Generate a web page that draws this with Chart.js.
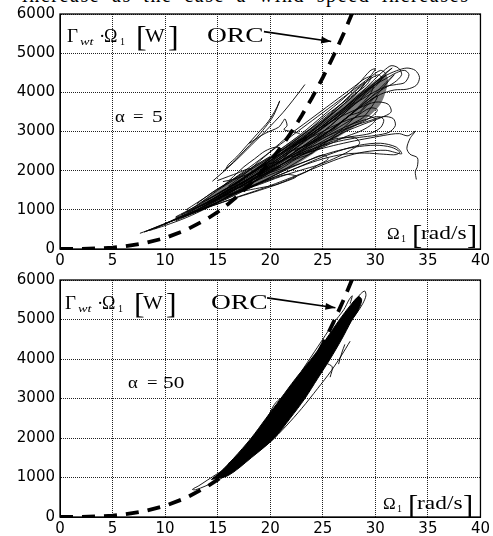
<!DOCTYPE html>
<html><head><meta charset="utf-8">
<script src="https://cdn.jsdelivr.net/npm/chart.js@4.4.0/dist/chart.umd.min.js"></script>
<style>
html,body{margin:0;padding:0;background:#fff;}
#wrap{position:relative;width:493px;height:536px;overflow:hidden;background:#fff;}
canvas{position:absolute;left:0;}
#cut{position:absolute;left:22px;top:-16px;font:20px "Liberation Serif";letter-spacing:1.6px;word-spacing:5px;white-space:nowrap;color:#000;}
</style></head><body>
<div id="wrap">
<div id="cut">increase as the case a wind speed increases</div>
<canvas id="c1" width="493" height="268" style="top:0"></canvas>
<canvas id="c2" width="493" height="270" style="top:266px"></canvas>
</div>
<script>
// ---------- data ----------
const xTicks = [0,5,10,15,20,25,30,35,40];
const yTicks = [0,1000,2000,3000,4000,5000,6000];
const orcOmega = [0,2,4,5,6,8,10,12,14,15,16,17,18,19,20,21,22,23,24,25,26,27,28];
const orcPower = [0,5,20,35,60,145,280,485,770,945,1150,1375,1630,1920,2240,2590,2980,3410,3870,4375,4920,5510,6150];

// alpha = 5 : dense core outline and trajectories [omega, power]
const a5_core = [[12,920],[14,1320],[16,1700],[18,2050],[20,2380],[22,2750],[24,3120],[26,3500],[28,3900],[30,4300],[31,4450],[31.2,4250],[30.5,3700],[29,3300],[27,2950],[25,2600],[23,2250],[21,1950],[19,1680],[17,1420],[15,1170],[13,950],[12,920]];
const a5_loop1 = [[7.6,400],[9,540],[10.5,700],[12,880],[13.5,1060],[15,1280],[16.5,1500],[18,1730],[19.5,1960],[21,2200],[22.5,2450],[24,2720],[25.5,3000],[27,3300],[28.5,3620],[30,3980],[31,4250],[31.8,4450],[31.3,4300],[30.2,3950],[28.8,3550],[27.2,3150],[25.6,2780],[24,2470],[22.3,2180],[20.5,1900],[18.7,1640],[17,1420],[15.2,1200],[13.4,1000],[11.5,800],[9.5,600],[8,430]];
const a5_loop2 = [[9,520],[11,760],[13,1000],[15,1300],[17,1620],[19,1950],[21,2300],[23,2680],[25,3080],[27,3500],[28.5,3880],[30,4250],[31,4500],[31.6,4620],[31,4480],[29.8,4150],[28.3,3780],[26.6,3350],[24.8,2950],[23,2600],[21,2250],[19,1900],[17,1570],[15,1250],[13,960],[11,720]];
const a5_loop3 = [[11,800],[13,1050],[15,1330],[17,1650],[19,1980],[21,2350],[23,2750],[25,3150],[26.8,3550],[28.5,3950],[29.8,4300],[30.8,4550],[31.5,4680],[32.2,4620],[32.5,4450],[31.8,4250],[30.5,4050],[29,3750],[27.3,3350],[25.5,2980],[23.5,2600],[21.5,2230],[19.5,1880],[17.5,1550],[15.5,1260],[13.5,1000],[11.5,790]];
const a5_loop4 = [[22,2600],[24,2950],[26,3350],[28,3800],[29.5,4150],[30.8,4400],[32,4550],[33,4620],[33.8,4560],[34.2,4380],[33.9,4180],[33,4080],[31.8,4060],[30.5,3950],[29,3700],[27.5,3400],[25.8,3050],[24,2750],[22.3,2500]];
const a5_loop5 = [[12,850],[14,1080],[16,1330],[18,1580],[20,1830],[22,2080],[24,2300],[26,2480],[28,2600],[30,2650],[31.5,2600],[32.3,2480],[32,2410],[30.8,2420],[29,2450],[27,2420],[25,2300],[23,2120],[21,1900],[19,1680],[17,1450],[15,1200],[13,960]];
const a5_loop6 = [[13,1000],[15,1280],[17,1560],[19,1850],[21,2150],[23,2480],[25,2820],[27,3100],[29,3300],[30.3,3380],[30.8,3300],[30.5,3100],[29.5,2950],[28,2880],[26,2800],[24,2620],[22,2380],[20,2100],[18,1800],[16,1500],[14,1200]];
const a5_loop7 = [[14,1150],[16,1450],[18,1780],[20,2120],[22,2500],[24,2900],[26,3300],[27.5,3650],[29,3980],[29.8,4150],[29.5,3950],[28.3,3600],[26.8,3250],[25,2900],[23,2580],[21,2250],[19,1950],[17,1650],[15,1350]];
const a5_loop8 = [[24,2700],[26,2950],[28,3150],[29.5,3280],[30.8,3380],[31.7,3330],[31.9,3150],[31.3,2980],[30,2900],[28.5,2850],[26.5,2750],[24.5,2600],[22.5,2400]];
const a5_tail = [[22,2350],[24,2500],[26,2640],[28,2760],[30,2860],[31.5,2930],[32.3,2945],[33.1,2890],[33.8,3010],[33.3,2820],[33,2570],[33.3,2420],[34,2330],[34,2110],[33.8,1970],[33.9,1775]];
const a5_loop10 = [[15,1400],[17,1750],[19,2120],[21,2500],[23,2900],[25,3300],[26.5,3650],[28,4000],[29.3,4300],[30.3,4450],[30.6,4350],[29.8,4100],[28.5,3800],[27,3450],[25.3,3050],[23.5,2700],[21.5,2320],[19.5,1980],[17.5,1660],[15.5,1380]];
const a5_loop11 = [[16,1500],[18,1800],[20,2080],[22,2380],[24,2700],[26,3020],[28,3350],[29.5,3600],[30.2,3550],[29.5,3350],[28,3150],[26,2900],[24,2600],[22,2300],[20,2000],[18,1720],[16.2,1450]];
const a5_loop12 = [[17,1470],[19,1650],[21,1850],[23,2020],[24.5,2140],[26,2300],[27.5,2500],[28.5,2700],[28,2850],[26.5,2800],[25,2650],[23,2400],[21,2150],[19,1900],[17.2,1650]];
const a5_loop13 = [[18,1900],[20,2250],[22,2620],[24,3020],[25.5,3350],[27,3700],[28.3,4000],[29,4250],[28.5,4150],[27.3,3850],[26,3500],[24.5,3150],[23,2850],[21.5,2550],[20,2250],[18.5,1980]];
const a5_loop14 = [[10,650],[12,900],[14,1180],[16,1480],[18,1800],[20,2150],[22,2550],[24,2950],[25.5,3250],[27,3550],[28,3750],[27.5,3600],[26,3300],[24.5,3000],[23,2750],[21,2400],[19,2050],[17,1720],[15,1400],[13,1100],[11,820]];
const a5_loop15 = [[12,1000],[14,1350],[16,1700],[18,2080],[20,2480],[22,2880],[24,3280],[26,3680],[28,4080],[29.5,4380],[30.5,4560],[31,4450],[30,4200],[28.5,3900],[26.5,3500],[24.5,3100],[22.5,2720],[20.5,2350],[18.5,1980],[16.5,1620],[14.5,1280],[12.5,1000]];
const a5_loop16 = [[13,950],[15,1150],[17,1340],[19,1520],[21,1720],[23,1930],[25,2150],[27,2350],[29,2480],[31,2520],[32.5,2430],[32,2600],[30.5,2700],[28.5,2650],[26.5,2500],[24.5,2300],[22.5,2070],[20.5,1850],[18.5,1640],[16.5,1420],[14.5,1180]];
const a5_loop17 = [[14,1250],[15.5,1500],[17,1700],[18.5,2000],[19.5,2150],[21,2250],[22,2500],[23.5,2650],[25,2950],[26,3050],[27.5,3400],[28.5,3500],[29.5,3800],[30.2,3900],[29.7,3650],[28.8,3350],[27.5,3150],[26.5,2900],[25,2700],[24,2450],[22.5,2300],[21,2050],[19.5,1900],[18,1650],[16.5,1450],[15,1300]];
const a5_loop18 = [[16,1600],[17.5,1900],[19,2250],[20.5,2600],[22,2950],[23.5,3250],[25,3550],[26.5,3850],[28,4150],[29,4350],[29.6,4400],[29.2,4200],[28,3950],[26.5,3650],[25,3350],[23.5,3000],[22,2700],[20.5,2400],[19,2100],[17.5,1800]];
const a5_loop19 = [[23,2400],[25,2600],[27,2850],[28.5,3000],[29.5,3150],[30,3300],[29.3,3400],[28,3350],[26.5,3200],[25,3000],[23.5,2800],[22,2600]];
const a5_loop20 = [[17,1550],[19,1800],[21,2100],[23,2400],[25,2700],[27,2980],[29,3200],[30.5,3350],[31.5,3500],[31.2,3700],[30,3750],[28.5,3600],[26.5,3350],[24.5,3050],[22.5,2700],[20.5,2350],[18.5,2000],[16.8,1700]];
const a5_loop21 = [[8.2,450],[10,640],[12,860],[14,1120],[16,1420],[18,1720],[19.5,1920],[21,2100],[20,2000],[18,1650],[16,1350],[14,1050],[12,800],[10,600],[8.5,470]];
const a5_loop22 = [[15.5,1600],[16.5,1850],[17.5,2100],[18.5,2300],[19.5,2500],[20.5,2600],[21,2550],[20.2,2350],[19.2,2150],[18.2,1950],[17.2,1750],[16.2,1600]];
const a5_loop23 = [[16,1380],[17.3,1470],[19,1560],[20.5,1640],[22,1800],[23.5,1980],[24.5,2140],[25.5,2300],[25,2400],[23.5,2250],[22,2100],[20.5,1950],[19,1780],[17.5,1600]];
const a5_loop24 = [[27,3600],[28.5,3950],[30,4200],[31,4350],[32,4500],[32.8,4560],[33.2,4450],[32.8,4250],[32,4200],[31,4150],[29.5,3950],[28,3700]];
const a5_loop25 = [[12,950],[13.5,1200],[15,1500],[16.5,1750],[18,2000],[19.5,2250],[21,2500],[22.5,2750],[23.5,2850],[22.5,2600],[21,2350],[19.5,2100],[18,1850],[16.5,1600],[15,1350],[13.5,1100]];
const a5_loop26 = [[11,780],[13,980],[15,1150],[17,1330],[19,1500],[21,1680],[22.5,1850],[21.5,1900],[19.5,1720],[17.5,1520],[15.5,1330],[13.5,1120],[11.5,880]];
const a5_loop27 = [[19,2000],[21,2400],[23,2800],[25,3250],[27,3700],[28.5,4050],[29.5,4400],[30,4600],[29.5,4550],[28.5,4250],[27,3850],[25,3400],[23,2950],[21,2550]];
const a5_loop28 = [[13,1150],[14.5,1450],[16,1700],[17.5,1950],[19,2200],[20,2350],[19.3,2150],[18,1900],[16.5,1650],[15,1400],[13.5,1200]];
const a5_streak1 = [[14.5,1730],[15.5,1960],[16.8,2280],[18.2,2650],[19.7,3050],[21.2,3480],[22.4,3880],[23.3,4200]];
const a5_streak2 = [[15.5,1980],[16.5,2220],[17.5,2500],[18.5,2780],[19.5,3100],[20.3,3400],[20.9,3780],[20.6,3600],[19.8,3250],[18.8,2950],[17.8,2650],[16.8,2350],[16,2150],[15.8,2050]];
const a5_wiggle = [[18,2700],[19.5,2950],[20.8,3110],[21.2,3250],[21.4,3320],[21.6,3150],[21.3,3050],[22,3000],[22.8,2950]];
const a5_small = [[15,1750],[16,1850],[17,1950],[18,2050],[18.3,1980],[17.5,1870],[16.5,1780],[15.5,1720]];

// alpha = 50 trajectories
const a50_core = [[14.4,950],[15.3,1150],[16.5,1480],[18.2,2000],[19.6,2500],[21,3000],[22.4,3500],[23.9,4000],[25.3,4500],[26.6,5000],[27.6,5350],[28.4,5580],[28.7,5500],[28.4,5250],[27.7,4950],[26.8,4500],[25.7,4000],[24.5,3500],[23.3,3000],[21.9,2500],[20.4,2000],[18.2,1500],[16,1050],[14.4,950]];
const a50_tail = [[15.8,1230],[15,1100],[14,930],[13.2,790],[12.6,700],[12.9,690],[13.8,780],[14.8,900],[15.8,1050],[16.8,1250]];
const a50_left = [[18.5,1950],[19.2,2250],[19.8,2550],[20.4,2850],[21,3000],[21.3,2950],[20.8,2650],[20.3,2350],[19.8,2100]];
const a50_tip = [[26.5,4800],[27.3,5150],[28,5450],[28.6,5650],[29,5720],[29.1,5600],[28.8,5400],[28.2,5150],[27.6,4950]];
const a50_stray1 = [[27.1,4370],[26.8,4150],[26.5,3870]];
const a50_stray2 = [[25.3,3900],[25.9,3800],[25.7,3540]];
const a50_edge = [[16,1350],[17.5,1700],[19,2150],[20.5,2650],[22,3200],[23.5,3750],[25,4300],[26.2,4750],[27.2,5150]];
const a50_right = [[17,1300],[18.5,1600],[20,1900],[21.5,2300],[23,2750],[24.5,3250],[25.8,3700],[26.8,4100],[27.6,4450]];
const a50_upper = [[23,3700],[24,4100],[25,4500],[26,4900],[27,5250],[27.5,5500],[27.8,5600],[27.6,5400]];

// ---------- drawing ----------
const TIMES = '"Liberation Serif", "Times New Roman", serif';
const annotPlugin = {
  id: 'annot',
  afterDatasetsDraw(chart, args, o) {
    const ctx = chart.ctx, a = chart.chartArea;
    ctx.save();
    ctx.strokeStyle = '#000'; ctx.lineWidth = 1.3; ctx.setLineDash([]);
    ctx.strokeRect(a.left, a.top, a.right - a.left, a.bottom - a.top);
    ctx.fillStyle = '#000';
    o.texts.forEach(t => {
      ctx.save();
      ctx.font = t.f;
      ctx.translate(a.left + t.x, a.top + t.y);
      ctx.scale(t.sx || 1.2, 1);
      ctx.fillText(t.s, 0, 0);
      ctx.restore();
    });
    const xs = chart.scales.x, ys = chart.scales.y;
    const x0 = xs.getPixelForValue(o.arrow[0]), y0 = ys.getPixelForValue(o.arrow[1]);
    const x1 = xs.getPixelForValue(o.arrow[2]), y1 = ys.getPixelForValue(o.arrow[3]);
    ctx.lineWidth = 1.6;
    ctx.beginPath(); ctx.moveTo(x0, y0); ctx.lineTo(x1, y1); ctx.stroke();
    const ang = Math.atan2(y1 - y0, x1 - x0), L = 10, W = 3.5;
    ctx.beginPath();
    ctx.moveTo(x1, y1);
    ctx.lineTo(x1 - L*Math.cos(ang) + W*Math.sin(ang), y1 - L*Math.sin(ang) - W*Math.cos(ang));
    ctx.lineTo(x1 - L*Math.cos(ang) - W*Math.sin(ang), y1 - L*Math.sin(ang) + W*Math.cos(ang));
    ctx.closePath(); ctx.fill();
    ctx.restore();
  }
};

function labelTexts(dy, o) {
  return [
    {s:'Γ', x:o.g, y:28+dy, f:'19px '+TIMES, sx:1.0},
    {s:'wt', x:o.g+13, y:31+dy, f:'italic 11px '+TIMES, sx:1.3},
    {s:'·', x:o.g+32, y:28+dy, f:'19px '+TIMES, sx:1.0},
    {s:'Ω', x:o.g+37, y:28+dy, f:'18px '+TIMES, sx:1.0},
    {s:'1', x:o.g+53, y:31+dy, f:'10px '+TIMES, sx:1.0},
    {s:'[', x:o.g+69, y:32+dy, f:'29px '+TIMES, sx:1.1},
    {s:'W', x:o.g+78, y:28+dy, f:'19px '+TIMES, sx:1.1},
    {s:']', x:o.g+101, y:32+dy, f:'29px '+TIMES, sx:1.1},
    {s:'ORC', x:o.orc, y:28+dy, f:'22px '+TIMES, sx:1.25},
    {s:'α', x:o.al, y:108, f:'17px '+TIMES, sx:1.1},
    {s:'=', x:o.eq, y:108, f:'17px '+TIMES, sx:1.1},
    {s:o.aval, x:o.av, y:108, f:'17px '+TIMES, sx:1.25},
    {s:'Ω', x:o.om, y:o.oy, f:'17px '+TIMES, sx:1.0},
    {s:'1', x:o.om+14, y:o.oy+3, f:'10px '+TIMES, sx:1.0},
    {s:'[', x:o.om+25, y:o.oy+5, f:'28px '+TIMES, sx:1.1},
    {s:'rad/s', x:o.om+34, y:o.oy, f:'18px '+TIMES, sx:1.3},
    {s:']', x:o.om+80, y:o.oy+5, f:'28px '+TIMES, sx:1.1}
  ];
}

const tickFont = {family:'"DejaVu Sans"', size:15};
function lineDs(data, w) {
  return {data, borderColor:'#000', borderWidth:w || 0.9, pointRadius:0, tension:0.3, fill:false, order:5};
}
function orcDs(order) {
  return {data: orcOmega.map((x,i)=>({x, y:orcPower[i]})), borderColor:'#000', borderWidth:3.8,
    borderDash:[13,9], pointRadius:0, tension:0, fill:false, order};
}
function makeOptions(padTop, annot) {
  const gridOpts = {color:'#222', lineWidth:1, drawTicks:false, borderDash:[1,1]};
  const borderOpts = {display:true, color:'#000', dash:[1,1]};
  return {
    responsive:false, animation:false, devicePixelRatio:1, events:[],
    layout:{padding:{top:padTop, right:10, left:0, bottom:0}},
    plugins:{legend:{display:false}, tooltip:{enabled:false}, annot},
    scales:{
      x:{type:'linear', min:0, max:40,
        afterBuildTicks:s=>{s.ticks = xTicks.map(v=>({value:v}));},
        ticks:{font:tickFont, color:'#000', padding:3, maxRotation:0, autoSkip:false, callback:v=>String(v)},
        grid:gridOpts, border:borderOpts,
        afterFit:s=>{s.height = 19;}},
      y:{type:'linear', min:0, max:6000,
        afterBuildTicks:s=>{s.ticks = yTicks.map(v=>({value:v}));},
        ticks:{font:tickFont, color:'#000', padding:5, autoSkip:false, callback:v=>String(v)},
        grid:gridOpts, border:borderOpts,
        afterFit:s=>{s.width = 60;}}
    }
  };
}

const top5 = [a5_loop1,a5_loop2,a5_loop3,a5_loop4,a5_loop5,a5_loop6,a5_loop7,a5_loop8,a5_tail,a5_loop10,a5_loop11,a5_loop12,a5_loop13,a5_loop14,a5_loop15,a5_loop16,a5_loop17,a5_loop18,a5_loop19,a5_loop20,a5_loop21,a5_loop22,a5_loop23,a5_loop24,a5_loop25,a5_loop26,a5_loop27,a5_loop28,a5_streak1,a5_streak2,a5_wiggle,a5_small];
const a5CoreDs = {data:a5_core, borderColor:'rgba(0,0,0,0)', backgroundColor:'#7a7a7a', borderWidth:0, pointRadius:0, tension:0.3, fill:'shape', order:8};
new Chart(document.getElementById('c1'), {
  type:'line',
  data:{datasets:[orcDs(0), ...top5.map(d=>lineDs(d)), a5CoreDs]},
  options: makeOptions(10, {
    texts: labelTexts(0, {g:7, orc:147, al:55, eq:73, av:92, aval:'5', om:327, oy:225}),
    arrow:[19.4,5550,25.8,5300]
  }),
  plugins:[annotPlugin]
});

const coreDs = {data:a50_core, borderColor:'#000', backgroundColor:'#000', borderWidth:1, pointRadius:0, tension:0.3, fill:'shape', order:4};
const bot50 = [a50_tail,a50_left,a50_tip,a50_stray1,a50_stray2,a50_edge,a50_right,a50_upper];
new Chart(document.getElementById('c2'), {
  type:'line',
  data:{datasets:[coreDs, ...bot50.map(d=>lineDs(d)), orcDs(9)]},
  options: makeOptions(9, {
    texts: labelTexts(1, {g:5, orc:151, al:68, eq:87, av:103, aval:'50', om:323, oy:229}),
    arrow:[19.7,5548,26.2,5296]
  }),
  plugins:[annotPlugin]
});
</script>
</body></html>
